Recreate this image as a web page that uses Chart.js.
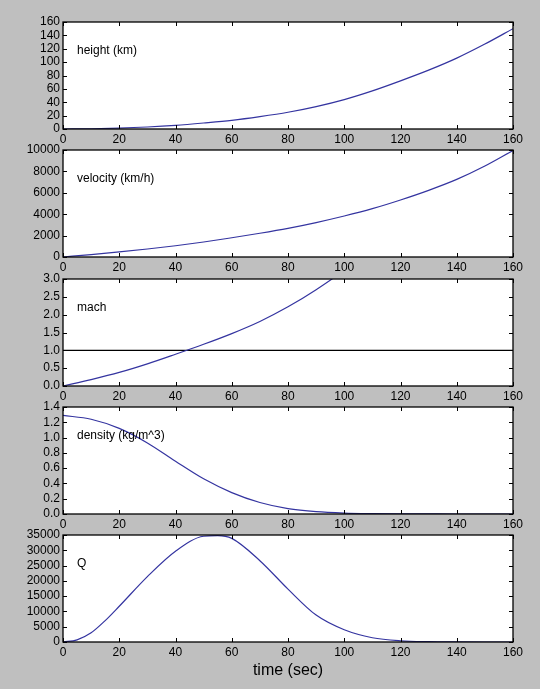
<!DOCTYPE html>
<html>
<head>
<meta charset="utf-8">
<script src="https://cdn.jsdelivr.net/npm/chart.js@4/dist/chart.umd.min.js"></script>
<style>
  body { margin: 0; background: #bfbfbf; width: 540px; height: 689px; overflow: hidden; position: relative; }
  canvas { position: absolute; left: 0; }
</style>
</head>
<body>
<canvas id="c0" width="540" height="143" style="top:10px"></canvas>
<canvas id="c1" width="540" height="143" style="top:138px"></canvas>
<canvas id="c2" width="540" height="143" style="top:267px"></canvas>
<canvas id="c3" width="540" height="143" style="top:395px"></canvas>
<canvas id="c4" width="540" height="157" style="top:523px"></canvas>
<script>
// time axis (seconds)
var time = [0, 10, 20, 30, 40, 50, 60, 70, 80, 90, 100, 110, 120, 130, 140, 150, 160];

// values
var heightKm = [0, 0.3, 1.3, 3, 5.5, 9, 13, 18.5, 25, 33.5, 44, 57, 72, 88, 106, 127, 150];
var velocityKmh = [0, 230, 480, 750, 1050, 1400, 1800, 2220, 2680, 3220, 3830, 4520, 5330, 6230, 7250, 8500, 9950];
var mach = [0, 0.18, 0.38, 0.62, 0.89, 1.17, 1.47, 1.81, 2.22, 2.70, 3.25, 3.9, 4.5, 5.2, 6.2, 7.5, 9.2];
var machRefTime = [0, 160];
var machRef = [1, 1];
var density = [1.29, 1.24, 1.12, 0.93, 0.69, 0.46, 0.28, 0.15, 0.07, 0.03, 0.012, 0.005, 0.002, 0.001, 0, 0, 0];

// Q has a few extra points where it bends most
var qTime = [0, 5, 10, 15, 20, 30, 40, 50, 55, 60, 70, 80, 90, 100, 110, 120, 130, 140, 150, 160];
var q = [0, 700, 3000, 7000, 11700, 21400, 29700, 34600, 34800, 33900, 26600, 17300, 8800, 4000, 1400, 400, 100, 20, 0, 0];

var xTicks = { min: 0, max: 160, step: 20 };

Chart.defaults.font.family = "'Liberation Sans', Arial, sans-serif";
Chart.defaults.font.size = 12;
Chart.defaults.color = '#000';

var lineColor = '#3434a0';

function pts(xs, ys) {
  var out = [];
  for (var i = 0; i < xs.length; i++) out.push({ x: xs[i], y: ys[i] });
  return out;
}

// white plot area, black frame, inward ticks on all four sides, panel label
var framePlugin = {
  id: 'frame',
  beforeDraw: function(chart) {
    var a = chart.chartArea, ctx = chart.ctx;
    ctx.save();
    ctx.fillStyle = '#fff';
    ctx.fillRect(a.left, a.top, a.right - a.left, a.bottom - a.top);
    ctx.restore();
  },
  afterDraw: function(chart) {
    var a = chart.chartArea, ctx = chart.ctx;
    var xs = chart.scales.x, ys = chart.scales.y;
    ctx.save();
    ctx.strokeStyle = '#000';
    ctx.lineWidth = 1;
    ctx.beginPath();
    xs.ticks.forEach(function(t) {
      var px = Math.round(xs.getPixelForValue(t.value)) + 0.5;
      ctx.moveTo(px, a.bottom); ctx.lineTo(px, a.bottom - 4);
      ctx.moveTo(px, a.top); ctx.lineTo(px, a.top + 4);
    });
    ys.ticks.forEach(function(t) {
      var py = Math.round(ys.getPixelForValue(t.value)) + 0.5;
      ctx.moveTo(a.left, py); ctx.lineTo(a.left + 4, py);
      ctx.moveTo(a.right, py); ctx.lineTo(a.right - 4, py);
    });
    ctx.stroke();
    ctx.lineWidth = 1.3;
    ctx.strokeRect(a.left, a.top, a.right - a.left, a.bottom - a.top);
    var label = chart.options.plugins.frame.label;
    ctx.fillStyle = '#000';
    ctx.font = "12px 'Liberation Sans', Arial, sans-serif";
    ctx.textBaseline = 'middle';
    ctx.fillText(label, a.left + 14, a.top + 29);
    ctx.restore();
  }
};

function makePanel(id, label, datasets, yMax, yStep, yDec, xTitle) {
  new Chart(document.getElementById(id), {
    type: 'line',
    data: { datasets: datasets },
    options: {
      responsive: false,
      animation: false,
      layout: { padding: { top: 12, right: 27, left: 0, bottom: 0 } },
      plugins: { legend: { display: false }, tooltip: { enabled: false }, frame: { label: label } },
      scales: {
        x: {
          type: 'linear',
          min: xTicks.min, max: xTicks.max,
          grid: { display: false, drawTicks: false },
          border: { display: false },
          ticks: { stepSize: xTicks.step, padding: 3, maxRotation: 0, autoSkip: false },
          title: xTitle ? { display: true, text: xTitle, font: { size: 16 }, padding: 0 } : { display: false },
          afterFit: function(s) { s.height = xTitle ? 38 : 24; }
        },
        y: {
          min: 0, max: yMax,
          grid: { display: false, drawTicks: false },
          border: { display: false },
          ticks: { stepSize: yStep, padding: 3, autoSkip: false, callback: function(v) { return v.toFixed(yDec); } },
          afterFit: function(s) { s.width = 63; }
        }
      }
    },
    plugins: [framePlugin]
  });
}

function series(xs, ys, color) {
  return {
    data: pts(xs, ys),
    borderColor: color || lineColor,
    borderWidth: 1.2,
    pointRadius: 0,
    fill: false,
    cubicInterpolationMode: 'monotone'
  };
}

makePanel('c0', 'height (km)', [series(time, heightKm)], 160, 20, 0);
makePanel('c1', 'velocity (km/h)', [series(time, velocityKmh)], 10000, 2000, 0);
makePanel('c2', 'mach', [series(time, mach), series(machRefTime, machRef, '#000')], 3, 0.5, 1);
makePanel('c3', 'density (kg/m^3)', [series(time, density)], 1.4, 0.2, 1);
makePanel('c4', 'Q', [series(qTime, q)], 35000, 5000, 0, 'time (sec)');
</script>
</body>
</html>
